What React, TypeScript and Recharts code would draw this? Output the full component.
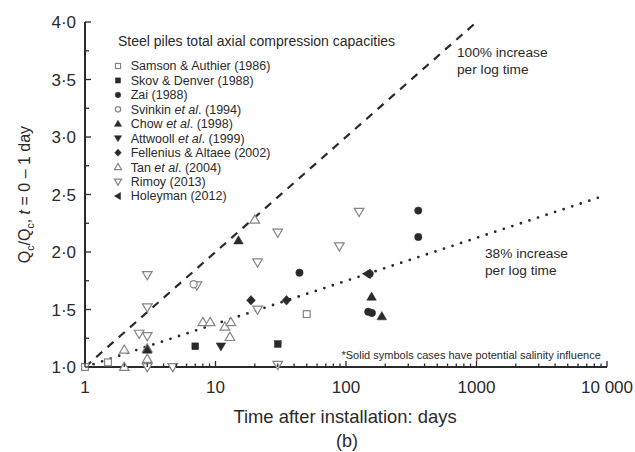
import React from 'react';
import { ScatterChart, Scatter, XAxis, YAxis, Legend, Customized } from 'recharts';

const FONT = '"Liberation Sans", Arial, sans-serif';
const INK = '#2a2a2a';
const OPEN = '#858585';

// axis ticks (log x, minor ticks every integer step inside a decade)
const xTicks = [
  1, 2, 3, 4, 5, 6, 7, 8, 9,
  10, 20, 30, 40, 50, 60, 70, 80, 90,
  100, 200, 300, 400, 500, 600, 700, 800, 900,
  1000, 2000, 3000, 4000, 5000, 6000, 7000, 8000, 9000,
  10000,
];
const xMajor = [1, 10, 100, 1000, 10000];
const xMajorLabels = ['1', '10', '100', '1000', '10 000'];
const yTicks = [1, 1.25, 1.5, 1.75, 2, 2.25, 2.5, 2.75, 3, 3.25, 3.5, 3.75, 4];
const yTickLabels = ['1·0', '1·5', '2·0', '2·5', '3·0', '3·5', '4·0'];

// t = days after installation, q = Qc / Qc(t = 0-1 day)
const samson = [{ t: 1, q: 1.0 }, { t: 1.5, q: 1.04 }, { t: 50, q: 1.46 }];
const skov = [{ t: 7, q: 1.18 }, { t: 30, q: 1.2 }];
const zai = [
  { t: 44, q: 1.82 }, { t: 152, q: 1.81 }, { t: 148, q: 1.48 },
  { t: 158, q: 1.47 }, { t: 358, q: 2.36 }, { t: 358, q: 2.13 },
];
const svinkin = [{ t: 6.8, q: 1.72 }];
const chow = [{ t: 3, q: 1.15 }, { t: 15, q: 2.1 }, { t: 157, q: 1.61 }, { t: 188, q: 1.44 }];
const attwooll = [{ t: 11, q: 1.18 }];
const fellenius = [{ t: 18.7, q: 1.58 }, { t: 35, q: 1.58 }];
const tan = [
  { t: 2, q: 1.0 }, { t: 2, q: 1.15 }, { t: 3, q: 1.07 }, { t: 3, q: 1.16 },
  { t: 8, q: 1.39 }, { t: 9.1, q: 1.39 }, { t: 11.8, q: 1.35 }, { t: 13.1, q: 1.39 },
  { t: 12.9, q: 1.26 }, { t: 20, q: 2.28 },
];
const rimoy = [
  { t: 3, q: 1.8 }, { t: 3, q: 1.52 }, { t: 2.6, q: 1.29 }, { t: 3, q: 1.27 },
  { t: 3, q: 1.0 }, { t: 4.7, q: 1.0 }, { t: 7.2, q: 1.71 }, { t: 21, q: 1.91 },
  { t: 21, q: 1.5 }, { t: 30, q: 2.17 }, { t: 30, q: 1.02 }, { t: 89, q: 2.05 },
  { t: 126, q: 2.35 },
];
const holeyman = [{ t: 145, q: 1.81 }];

// trend lines
const line100 = [{ t: 1, q: 1 }, { t: 1000, q: 4 }];
const line38 = [{ t: 1, q: 1 }, { t: 9000, q: 2.48 }];

type Kind = 'sqOpen' | 'sqFill' | 'ciFill' | 'ciOpen' | 'upFill' | 'downFill' | 'diamond' | 'upOpen' | 'downOpen' | 'leftFill';

const marker = (kind: Kind, cx: number, cy: number, s = 1) => {
  const open = { fill: '#fff', stroke: OPEN, strokeWidth: 1.2 };
  const full = { fill: INK, stroke: INK, strokeWidth: 0.5 };
  const h = 3.4 * s;
  const w = 4.8 * s;
  switch (kind) {
    case 'sqOpen':
      return <rect x={cx - h} y={cy - h} width={2 * h} height={2 * h} {...open} />;
    case 'sqFill':
      return <rect x={cx - h} y={cy - h} width={2 * h} height={2 * h} {...full} />;
    case 'ciFill':
      return <circle cx={cx} cy={cy} r={3.7 * s} {...full} />;
    case 'ciOpen':
      return <circle cx={cx} cy={cy} r={3.6 * s} {...open} />;
    case 'upFill':
      return <polygon points={`${cx},${cy - w} ${cx + w},${cy + 3.4 * s} ${cx - w},${cy + 3.4 * s}`} {...full} />;
    case 'upOpen':
      return <polygon points={`${cx},${cy - w} ${cx + w},${cy + 3.4 * s} ${cx - w},${cy + 3.4 * s}`} {...open} />;
    case 'downFill':
      return <polygon points={`${cx - w},${cy - 3.4 * s} ${cx + w},${cy - 3.4 * s} ${cx},${cy + w}`} {...full} />;
    case 'downOpen':
      return <polygon points={`${cx - w},${cy - 3.4 * s} ${cx + w},${cy - 3.4 * s} ${cx},${cy + w}`} {...open} />;
    case 'diamond':
      return <polygon points={`${cx},${cy - w} ${cx + 4.4 * s},${cy} ${cx},${cy + w} ${cx - 4.4 * s},${cy}`} {...full} />;
    case 'leftFill':
      return <polygon points={`${cx - w},${cy} ${cx + 3.4 * s},${cy - w} ${cx + 3.4 * s},${cy + w}`} {...full} />;
  }
};

const series: { name: React.ReactNode; data: { t: number; q: number }[]; kind: Kind }[] = [
  { name: 'Samson & Authier (1986)', data: samson, kind: 'sqOpen' },
  { name: 'Skov & Denver (1988)', data: skov, kind: 'sqFill' },
  { name: 'Zai (1988)', data: zai, kind: 'ciFill' },
  { name: <>Svinkin <tspan fontStyle="italic">et al</tspan>. (1994)</>, data: svinkin, kind: 'ciOpen' },
  { name: <>Chow <tspan fontStyle="italic">et al</tspan>. (1998)</>, data: chow, kind: 'upFill' },
  { name: <>Attwooll <tspan fontStyle="italic">et al</tspan>. (1999)</>, data: attwooll, kind: 'downFill' },
  { name: 'Fellenius & Altaee (2002)', data: fellenius, kind: 'diamond' },
  { name: <>Tan <tspan fontStyle="italic">et al</tspan>. (2004)</>, data: tan, kind: 'upOpen' },
  { name: 'Rimoy (2013)', data: rimoy, kind: 'downOpen' },
  { name: 'Holeyman (2012)', data: holeyman, kind: 'leftFill' },
];

const XTick = ({ x, y, payload }: any) => {
  const i = xMajor.indexOf(payload.value);
  const major = i >= 0;
  return (
    <g>
      <line x1={x} x2={x} y1={y} y2={y - (major ? 6 : 3.5)} stroke={INK} strokeWidth={1.3} />
      {major && (
        <text x={x} y={y + 26} textAnchor="middle" fontSize={17} fill={INK} fontFamily={FONT}>
          {xMajorLabels[i]}
        </text>
      )}
    </g>
  );
};

const YTick = ({ x, y, payload }: any) => {
  const i = yTicks.indexOf(payload.value);
  const major = i % 2 === 0;
  return (
    <g>
      <line x1={x} x2={x + (major ? 6 : 4)} y1={y} y2={y} stroke={INK} strokeWidth={1.3} />
      {major && (
        <text x={x - 9} y={y + 6} textAnchor="end" fontSize={17} fill={INK} fontFamily={FONT}>
          {yTickLabels[i / 2]}
        </text>
      )}
    </g>
  );
};

const LegendBox = () => (
  <svg width={300} height={180} style={{ overflow: 'visible' }}>
    <text x={13} y={18} fontSize={14} fill={INK} fontFamily={FONT}>
      Steel piles total axial compression capacities
    </text>
    {series.map((s, i) => {
      const cy = 38 + i * 14.45;
      return (
        <g key={i}>
          {marker(s.kind, 13, cy, 0.75)}
          <text x={25.7} y={cy + 4.4} fontSize={12.5} fill={INK} fontFamily={FONT}>
            {s.name}
          </text>
        </g>
      );
    })}
  </svg>
);

const Annotations = () => (
  <g fontFamily={FONT} fill={INK}>
    <text x={457} y={57} fontSize={13.7}>100% increase</text>
    <text x={457} y={74} fontSize={13.7}>per log time</text>
    <text x={485} y={258} fontSize={13.7}>38% increase</text>
    <text x={485} y={275} fontSize={13.7}>per log time</text>
    <text x={341.5} y={359} fontSize={11}>*Solid symbols cases have potential salinity influence</text>
    <text x={345} y={423} fontSize={18.4} textAnchor="middle">Time after installation: days</text>
    <text x={347} y={447} fontSize={18} textAnchor="middle">(b)</text>
    <text transform="translate(30,194.5) rotate(-90)" textAnchor="middle" fontSize={16}>
      Q<tspan fontSize={10.5} dy={4}>c</tspan>
      <tspan dy={-4}>/Q</tspan>
      <tspan fontSize={10.5} dy={4}>c</tspan>
      <tspan dy={-4}>, </tspan>
      <tspan fontStyle="italic">t</tspan> = 0 – 1 day
    </text>
  </g>
);

const drawOrder = [7, 8, 0, 3, 1, 2, 4, 5, 6, 9];

export default function App() {
  return (
    <div style={{ position: 'absolute', left: 0, top: 0, width: 635, height: 452, background: '#fff' }}>
      <ScatterChart width={635} height={452} margin={{ top: 22, right: 28, bottom: 0, left: 0 }}>
        <XAxis
          type="number"
          dataKey="t"
          scale="log"
          domain={[1, 10000]}
          ticks={xTicks}
          interval={0}
          tick={<XTick />}
          tickSize={0}
          tickMargin={0}
          tickLine={false}
          height={85}
          axisLine={{ stroke: INK, strokeWidth: 2 }}
        />
        <YAxis
          type="number"
          dataKey="q"
          domain={[1, 4]}
          ticks={yTicks}
          interval={0}
          tick={<YTick />}
          tickSize={0}
          tickMargin={0}
          tickLine={false}
          width={85}
          axisLine={{ stroke: INK, strokeWidth: 2 }}
        />
        <Scatter
          data={line100}
          line={{ stroke: INK, strokeWidth: 2.2, strokeDasharray: '8 7' }}
          shape={() => <g />}
          legendType="none"
          isAnimationActive={false}
        />
        <Scatter
          data={line38}
          line={{ stroke: INK, strokeWidth: 2.8, strokeDasharray: '0 9', strokeLinecap: 'round' }}
          shape={() => <g />}
          legendType="none"
          isAnimationActive={false}
        />
        {drawOrder.map((i) => {
          const s = series[i];
          return (
            <Scatter
              key={i}
              data={s.data}
              shape={(p: any) => marker(s.kind, p.cx, p.cy)}
              isAnimationActive={false}
            />
          );
        })}
        <Legend
          layout="vertical"
          align="center"
          verticalAlign="middle"
          content={() => <LegendBox />}
          wrapperStyle={{ left: 105, top: 28, width: 300, height: 180 }}
        />
        <Customized component={<Annotations />} />
      </ScatterChart>
    </div>
  );
}
